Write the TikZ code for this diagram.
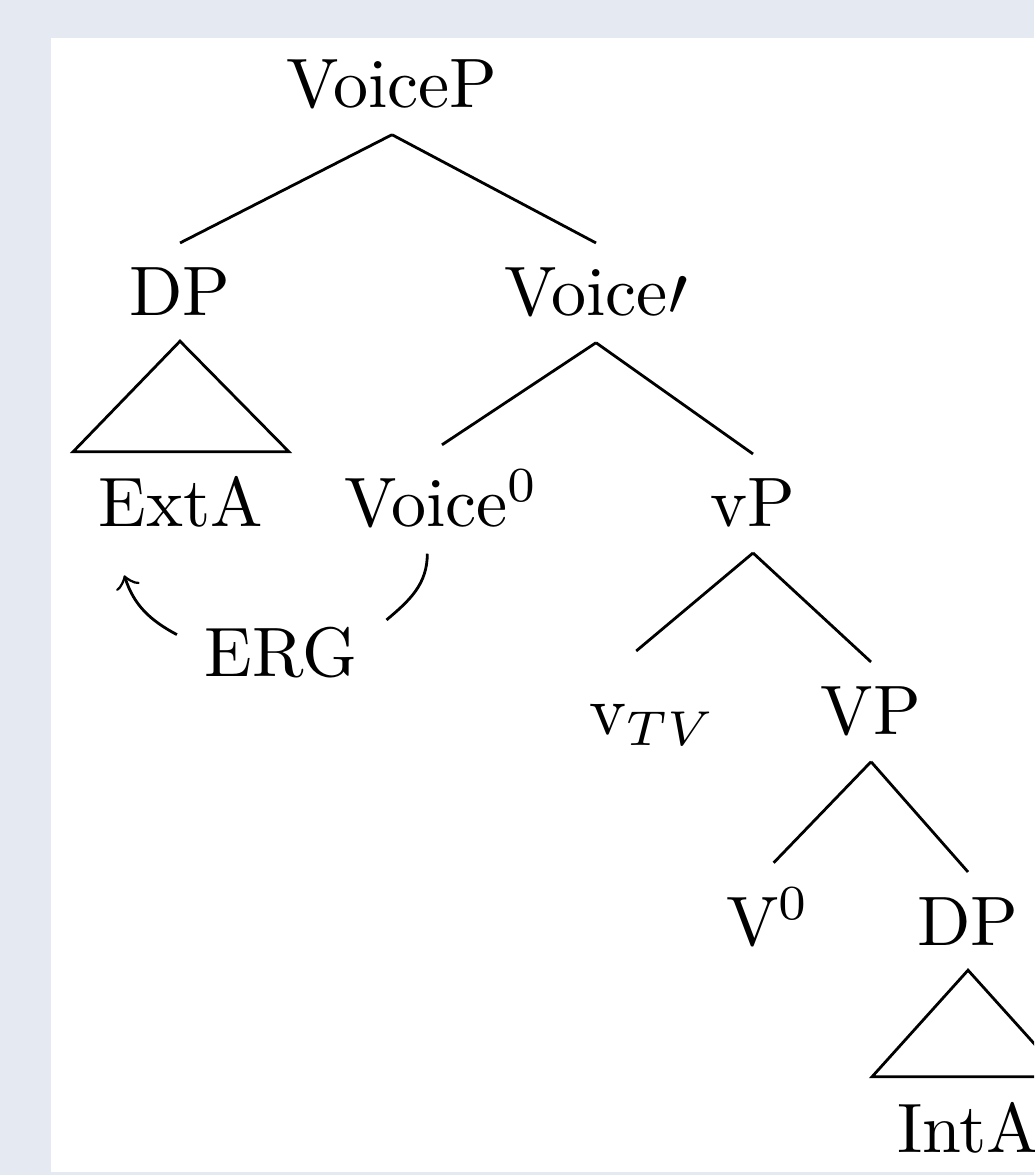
\documentclass[tikz,border=0pt]{standalone}
\definecolor{bgc}{HTML}{E5EAF2}
\begin{document}
\begin{tikzpicture}[x=0.142857pt,y=-0.142857pt,
  lbl/.style={anchor=base,inner sep=3.4pt,font=\fontsize{10}{12}\selectfont},
  edge/.style={line width=0.4pt},
  arc/.style={line width=0.4pt}]
\useasboundingbox (0,0) rectangle (1034,1175);
\fill[bgc] (0,0) rectangle (1034,1175);
\fill[white] (51,38) rectangle (1034,1172);
\begin{scope}
\clip (51,38) rectangle (1034,1172);
\node[lbl] (VoiceP) at (392,108) {VoiceP};
\node[lbl] (DPa) at (180,316) {DP};
\node[lbl] (Vbar) at (596,316) {Voice$\prime$};
\node[lbl] (ExtA) at (181,527) {ExtA};
\node[lbl] (Voice0) at (442,527) {Voice$^0$};
\node[lbl] (vP) at (753,527) {vP};
\node[lbl] (ERG) at (281,677) {ERG};
\node[lbl,text height=8.4pt] (vTV) at (653,735) {v$_{TV}$};
\node[lbl] (VP) at (871,735) {VP};
\node[lbl] (V0) at (768,945) {V$^0$};
\node[lbl] (DPb) at (968,945) {DP};
\node[lbl] (IntA) at (968,1152) {IntA};
\draw[edge] (VoiceP.south) -- (DPa.north);
\draw[edge] (VoiceP.south) -- (Vbar.north);
\draw[edge] (DPa.south) -- ([xshift=-15.4pt]ExtA.north) -- ([xshift=15.4pt]ExtA.north) -- cycle;
\draw[edge] (Vbar.south) -- (Voice0.north);
\draw[edge] (Vbar.south) -- (vP.north);
\draw[edge] (vP.south) -- ([xshift=-2.4pt]vTV.north);
\draw[edge] (vP.south) -- (VP.north);
\draw[edge] (VP.south) -- ([xshift=0.8pt]V0.north);
\draw[edge] (VP.south) -- (DPb.north);
\draw[edge] (DPb.south) -- ([xshift=-13.7pt]IntA.north) -- ([xshift=13.7pt]IntA.north) -- cycle;
\draw[arc] ([xshift=-2.1pt]Voice0.south) to[out=-90,in=40] ([xshift=0.6pt,yshift=-2.5pt]ERG.north east);
\draw[arc,->] ([xshift=-0.4pt,yshift=-4.6pt]ERG.north west) to[out=152,in=-72] ([xshift=-8.1pt,yshift=-3.2pt]ExtA.south);
\end{scope}
\end{tikzpicture}
\end{document}
